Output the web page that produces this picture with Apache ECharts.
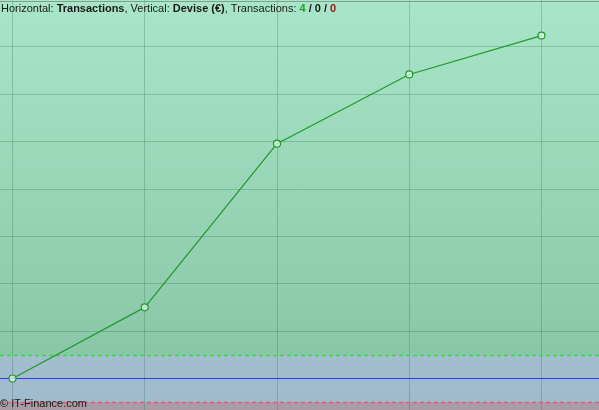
<!DOCTYPE html>
<html>
<head>
<meta charset="utf-8">
<script src="https://cdn.jsdelivr.net/npm/echarts@6/dist/echarts.min.js"></script>
<style>html,body{margin:0;padding:0;background:#fff;}#c{width:599px;height:410px;}</style>
</head>
<body>
<div id="c"></div>
<script>
// Data
var transactions = [0, 1, 2, 3, 4];
var balance = [0, 150, 495, 641, 723];
var upperLevel = 50;
var lowerLevel = -50;
var zeroLevel = 0;
var txCounts = ['4', '0', '0'];
var xGridValues = [0, 1, 2, 3, 4];
var yGridValues = [100, 200, 300, 400, 500, 600, 700];

var chart = echarts.init(document.getElementById('c'), null, {renderer: 'canvas'});
var data = transactions.map(function (t, i) { return [t, balance[i]]; });
var gridColor = 'rgba(40,110,80,0.28)';
var gridLines = xGridValues.map(function (v) { return {xAxis: v}; })
  .concat(yGridValues.map(function (v) { return {yAxis: v}; }));

chart.setOption({
  animation: false,
  backgroundColor: {
    type: 'linear', x: 0, y: 0, x2: 0, y2: 1,
    colorStops: [{offset: 0, color: '#a9e6c9'}, {offset: 1, color: '#84c2a3'}]
  },
  title: {
    left: 1, top: 3, padding: 0,
    text: '{n|Horizontal: }{b|Transactions}{n|, Vertical: }{b|Devise (€)}{n|, Transactions: }{g|' + txCounts[0] + '}{b| / ' + txCounts[1] + ' / }{r|' + txCounts[2] + '}',
    textStyle: {
      fontWeight: 'normal', fontSize: 11, fontFamily: 'Liberation Sans',
      rich: {
        n: {fontFamily: 'Liberation Sans', fontSize: 11, fontWeight: 'normal', color: '#1a1a1a'},
        b: {fontFamily: 'Liberation Sans', fontSize: 11, fontWeight: 'bold', color: '#1a1a1a'},
        g: {fontFamily: 'Liberation Sans', fontSize: 11, fontWeight: 'bold', color: '#22a02a'},
        r: {fontFamily: 'Liberation Sans', fontSize: 11, fontWeight: 'bold', color: '#a01818'}
      }
    }
  },
  graphic: [
    {type: 'line', shape: {x1: 0, y1: 1.5, x2: 599, y2: 1.5}, style: {stroke: '#7f9f8f', lineWidth: 1}, z: 10},
    {type: 'text', left: 0, top: 398, z: 10,
     style: {text: '© IT-Finance.com', font: '11px "Liberation Sans"', fill: '#1a1a1a'}}
  ],
  grid: {left: 0, right: 0, top: 0, bottom: 0},
  xAxis: {
    type: 'value', min: -0.0945, max: 4.4348,
    axisLine: {show: false}, axisTick: {show: false}, axisLabel: {show: false},
    splitLine: {show: false}
  },
  yAxis: {
    type: 'value', min: -66.4, max: 798.0,
    axisLine: {show: false}, axisTick: {show: false}, axisLabel: {show: false},
    splitLine: {show: false}
  },
  series: [{
    type: 'line',
    data: [],
    z: 1,
    markLine: {
      silent: true, symbol: 'none', label: {show: false},
      lineStyle: {color: gridColor, type: 'solid', width: 1},
      data: gridLines
    },
    markArea: {
      silent: true,
      data: [
        [{yAxis: lowerLevel, itemStyle: {color: 'rgba(185,180,245,0.5)'}}, {yAxis: upperLevel}],
        [{yAxis: -66.4, itemStyle: {color: 'rgba(195,130,170,0.6)'}}, {yAxis: lowerLevel}]
      ]
    }
  }, {
    type: 'line',
    data: [],
    z: 3,
    markLine: {
      silent: true, symbol: 'none', label: {show: false},
      data: [
        {yAxis: upperLevel, lineStyle: {color: '#33dd33', type: [4, 3], width: 1.3, opacity: 1}},
        {yAxis: zeroLevel, lineStyle: {color: '#2a3cf0', type: 'solid', width: 1, opacity: 1}},
        {yAxis: lowerLevel, lineStyle: {color: '#e8586a', type: [4, 3], width: 1.3, opacity: 1}}
      ]
    }
  }, {
    type: 'line',
    data: data,
    lineStyle: {color: '#1f9a26', width: 1.2},
    symbol: 'circle', symbolSize: 7,
    itemStyle: {color: 'rgba(225,245,240,0.75)', borderColor: '#1f9a26', borderWidth: 1.2},
    z: 5
  }]
});
</script>
</body>
</html>
